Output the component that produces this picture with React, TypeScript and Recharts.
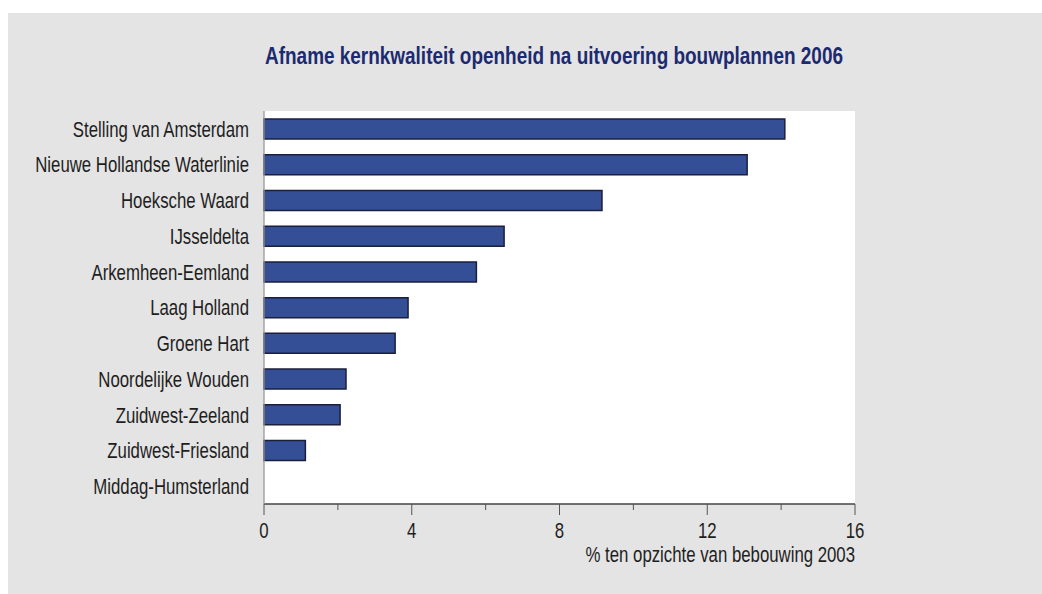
import React from "react";
import { BarChart, Bar, XAxis, YAxis, Label, CartesianGrid } from "recharts";

const regions = [
  "Stelling van Amsterdam",
  "Nieuwe Hollandse Waterlinie",
  "Hoeksche Waard",
  "IJsseldelta",
  "Arkemheen-Eemland",
  "Laag Holland",
  "Groene Hart",
  "Noordelijke Wouden",
  "Zuidwest-Zeeland",
  "Zuidwest-Friesland",
  "Middag-Humsterland",
];
const afname = [14.1, 13.08, 9.15, 6.5, 5.75, 3.9, 3.55, 2.22, 2.06, 1.12, 0];
const xTicks = [0, 2, 4, 6, 8, 10, 12, 14, 16];
const majorTicks = [0, 4, 8, 12, 16];

const title = "Afname kernkwaliteit openheid na uitvoering bouwplannen 2006";
const xLabel = "% ten opzichte van bebouwing 2003";

const data = regions.map((r, i) => ({ name: r, value: afname[i] }));

const FONT = "'Liberation Sans', Arial, sans-serif";
const NARROW = 0.77;
const FS = 21.8;

const XTick = (props: any) => {
  const { x, y, payload } = props;
  const major = majorTicks.includes(payload.value);
  return (
    <g>
      <line x1={x} x2={x} y1={y} y2={y + (major ? 11 : 6)} stroke="#555" strokeWidth={1} />
      {major && (
        <text
          transform={`translate(${x},${y + 34}) scale(${NARROW},1)`}
          textAnchor="middle"
          fontSize={FS}
          fontFamily={FONT}
          fill="#1e1e1e"
        >
          {payload.value}
        </text>
      )}
    </g>
  );
};

const YTick = (props: any) => {
  const { x, y, payload } = props;
  return (
    <text
      transform={`translate(${x},${y}) scale(${NARROW},1)`}
      textAnchor="end"
      dy="0.36em"
      fontSize={FS}
      fontFamily={FONT}
      fill="#1e1e1e"
    >
      {payload.value}
    </text>
  );
};

const XLabel = (props: any) => {
  const vb = props.viewBox || {};
  const x = vb.x + vb.width;
  const y = vb.y + vb.height - 2;
  return (
    <text
      transform={`translate(${x},${y}) scale(${NARROW},1)`}
      textAnchor="end"
      fontSize={FS}
      fontFamily={FONT}
      fill="#1e1e1e"
    >
      {xLabel}
    </text>
  );
};

export default function App() {
  return (
    <div
      style={{
        position: "fixed",
        left: 8,
        top: 13,
        width: 1034,
        height: 581,
        background: "#e4e4e4",
      }}
    >
      <BarChart
        width={1034}
        height={581}
        data={data}
        layout="vertical"
        margin={{ top: 98, right: 187, bottom: 30, left: 0 }}
        barSize={20}
      >
        <text
          transform={`translate(546,51) scale(0.79,1)`}
          textAnchor="middle"
          fontSize={24}
          fontWeight="bold"
          fontFamily={FONT}
          fill="#1c2a70"
        >
          {title}
        </text>
        <CartesianGrid fill="#ffffff" stroke="none" horizontal={false} vertical={false} />
        <XAxis
          type="number"
          dataKey="value"
          domain={[0, 16]}
          ticks={xTicks}
          interval={0}
          tickLine={false}
          tickSize={0}
          tickMargin={0}
          tick={<XTick />}
          axisLine={{ stroke: "#444", strokeWidth: 1.3 }}
          height={60}
        >
          <Label content={<XLabel />} />
        </XAxis>
        <YAxis
          type="category"
          dataKey="name"
          width={256}
          tickLine={false}
          tickSize={0}
          tickMargin={15}
          axisLine={{ stroke: "#999", strokeWidth: 1.3 }}
          tick={<YTick />}
          interval={0}
        />
        <Bar
          dataKey="value"
          fill="#344f96"
          stroke="#1b1f3d"
          strokeWidth={1.5}
          isAnimationActive={false}
        />
      </BarChart>
    </div>
  );
}
